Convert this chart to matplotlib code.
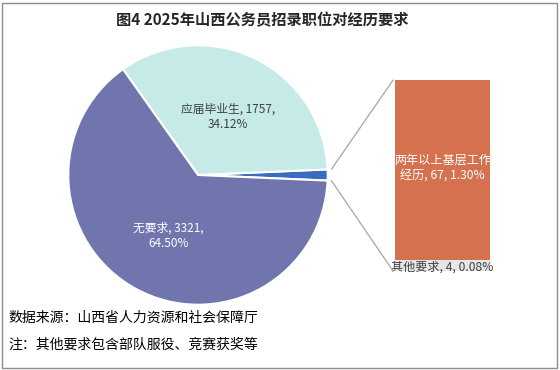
import matplotlib
matplotlib.use("Agg")
import matplotlib.pyplot as plt
from matplotlib.patches import ConnectionPatch, Rectangle
import numpy as np

plt.rcParams['font.family'] = ['Noto Sans CJK SC', 'DejaVu Sans']

# ---- data ----
title = "图4 2025年山西公务员招录职位对经历要求"
pie_labels = ["其他", "应届毕业生", "无要求"]
pie_values = [71, 1757, 3321]
pie_pcts = ["1.38%", "34.12%", "64.50%"]
bar_labels = ["其他要求", "两年以上基层工作经历"]
bar_values = [4, 67]
bar_pcts = ["0.08%", "1.30%"]
notes = ["数据来源：山西省人力资源和社会保障厅", "注：其他要求包含部队服役、竞赛获奖等"]

pie_colors = ["#3A6BC0", "#C5EAE8", "#7075AE"]
bar_colors = ["#E6E6E6", "#D6714F"]

W, H = 560, 370
fig = plt.figure(figsize=(W / 100, H / 100), dpi=100)
fig.patch.set_facecolor("white")

# frame
fig.add_artist(Rectangle((2 / W, 2 / H), 1 - 5 / W, 1 - 5 / H, transform=fig.transFigure,
                         fill=False, edgecolor="#8C8C8C", linewidth=1.0))

# ---- pie ----
cx, cy, r = 198, 175, 131
axp = fig.add_axes([(cx - r) / W, (H - cy - r) / H, 2 * r / W, 2 * r / H])
total = sum(pie_values)
start = -pie_values[0] / total * 180
wedges, _ = axp.pie(pie_values, colors=pie_colors, startangle=start, counterclock=True,
                    radius=1, wedgeprops=dict(edgecolor="white", linewidth=1.5))
axp.set_xlim(-1.01, 1.01)
axp.set_ylim(-1.01, 1.01)
axp.set_aspect("equal")
axp.axis("off")

axp.text(0.23, 0.45, f"{pie_labels[1]}, {pie_values[1]},\n{pie_pcts[1]}", ha="center", va="center",
         fontsize=8.5, color="#404040", linespacing=1.2)
axp.text(-0.23, -0.47, f"{pie_labels[2]}, {pie_values[2]},\n{pie_pcts[2]}", ha="center", va="center",
         fontsize=8.5, color="white", linespacing=1.2)

# ---- bar (pie of bar) ----
bx0, bx1, by0, by1 = 395, 490, 80, 271
axb = fig.add_axes([bx0 / W, (H - by1) / H, (bx1 - bx0) / W, (by1 - by0) / H])
bottom = 0
for v, c in zip(bar_values, bar_colors):
    axb.bar([0], [v], bottom=bottom, width=1.0, color=c, edgecolor="none")
    bottom += v
axb.set_xlim(-0.5, 0.5)
axb.set_ylim(0, sum(bar_values))
axb.axis("off")

axb.text(0, bar_values[0] + bar_values[1] * 0.5 + 1, "两年以上基层工作\n经历, %d, %s" % (bar_values[1], bar_pcts[1]),
         ha="center", va="center", fontsize=8.7, color="white", linespacing=1.2)
axb.text(0, bar_values[0] * 0.4, f"{bar_labels[0]}, {bar_values[0]}, {bar_pcts[0]}",
         ha="center", va="center", fontsize=8.7, color="#404040")

# connector lines
theta = np.deg2rad(pie_values[0] / total * 180)
for sgn, yb in [(1, sum(bar_values)), (-1, 0)]:
    con = ConnectionPatch(xyA=(1.03 * np.cos(theta), sgn * 1.03 * np.sin(theta)), coordsA=axp.transData,
                          xyB=(-0.52, yb), coordsB=axb.transData, color="#A6A6A6", linewidth=0.9)
    fig.add_artist(con)

# title
fig.text(262 / W, 1 - 20 / H, title, ha="center", va="center", fontsize=11, fontweight="bold",
         color="#262626")

# notes
fig.text(8 / W, 1 - 318 / H, notes[0], ha="left", va="center", fontsize=10, color="black")
fig.text(8 / W, 1 - 345 / H, notes[1], ha="left", va="center", fontsize=10, color="black")

fig.savefig("out.png", dpi=100, facecolor="white")
